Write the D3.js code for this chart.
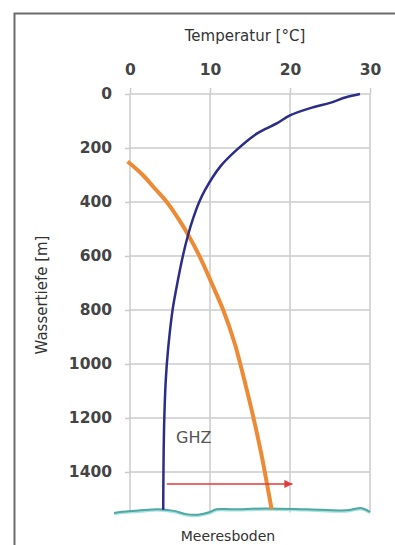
<!DOCTYPE html>
<html>
<head>
<meta charset="utf-8">
<script src="https://cdn.jsdelivr.net/npm/d3@7"></script>
<style>
  body { margin: 0; background: #fff; }
  svg { display: block; }
  .tick text { font-family: "DejaVu Sans", Verdana, sans-serif; fill: #444; font-weight: bold; }
</style>
</head>
<body>
<div id="chart"></div>
<script>
// temperature ticks (top axis) and depth ticks (left axis)
const tempTicks = [0, 10, 20, 30];
const depthTicks = [0, 200, 400, 600, 800, 1000, 1200, 1400];

// water temperature profile [°C, m]
const tempProfile = [
  [28.75, 0], [27, 12], [25, 33], [22.9, 49], [20, 79], [18.4, 108],
  [15.9, 146], [13.3, 208], [11.25, 270], [9.35, 357], [8.65, 400], [7.9, 460],
  [7.25, 523], [6.6, 601], [5.75, 727], [5.3, 804], [4.75, 949], [4.47, 1060],
  [4.3, 1188], [4.21, 1314], [4.15, 1540]
];

// hydrate stability curve [°C, m]
const hydrateCurve = [
  [-0.3, 250], [1.6, 300], [3.1, 350], [4.6, 400], [6.0, 460], [7.3, 523],
  [8.7, 601], [10.2, 700], [11.7, 804], [13.1, 925], [14.3, 1060],
  [15.3, 1182], [16.4, 1331], [17.1, 1440], [17.7, 1538]
];

// GHZ arrow [°C, m]
const ghzArrow = [[4.6, 1444], [20.3, 1444]];

// sea floor wave [°C, m]
const seaFloor = [
  [-2, 1552], [-1, 1547], [1, 1543], [3.5, 1538], [5.5, 1544], [7, 1556],
  [8.5, 1558], [10, 1548], [10.8, 1538], [13, 1538], [17, 1535], [22, 1538],
  [27, 1542], [29, 1534], [30, 1548]
];

const W = 395, H = 545;
const margin = { left: 130, top: 94 };
const plotW = 240;
const pxPerM = 0.27;

const svg = d3.select('#chart').append('svg')
  .attr('width', W)
  .attr('height', H);

// frame
svg.append('path')
  .attr('d', `M14.5,545 V13.5 H395`)
  .attr('fill', 'none')
  .attr('stroke', '#6a6a6a')
  .attr('stroke-width', 2);

const x = d3.scaleLinear().domain([0, 30]).range([0, plotW]);
const y = d3.scaleLinear().domain([0, 1550]).range([0, 1550 * pxPerM]);

const g = svg.append('g')
  .attr('transform', `translate(${margin.left}, ${margin.top})`);

// grid
g.selectAll('.vgrid')
  .data(tempTicks)
  .join('line')
  .attr('class', 'vgrid')
  .attr('x1', d => x(d)).attr('x2', d => x(d))
  .attr('y1', 0).attr('y2', y(1550))
  .attr('stroke', '#cbcbcb')
  .attr('stroke-width', 1.5);

g.selectAll('.hgrid')
  .data(depthTicks)
  .join('line')
  .attr('class', 'hgrid')
  .attr('x1', 0).attr('x2', plotW)
  .attr('y1', d => y(d)).attr('y2', d => y(d))
  .attr('stroke', '#cbcbcb')
  .attr('stroke-width', 1.5);

// axes
const axisTop = g.append('g')
  .call(d3.axisTop(x).tickValues(tempTicks).tickFormat(d3.format('d')).tickSize(6).tickPadding(13));
axisTop.select('.domain').remove();
axisTop.selectAll('.tick line').attr('stroke', '#cbcbcb').attr('stroke-width', 1.5);
axisTop.selectAll('.tick text').style('font-size', '15.5px');

const axisLeft = g.append('g')
  .call(d3.axisLeft(y).tickValues(depthTicks).tickFormat(d3.format('d')).tickSize(5).tickPadding(13));
axisLeft.select('.domain').remove();
axisLeft.selectAll('.tick line').attr('stroke', '#cbcbcb').attr('stroke-width', 1.5);
axisLeft.selectAll('.tick text').style('font-size', '15.5px');

// axis titles
svg.append('text')
  .attr('x', 245).attr('y', 41)
  .attr('text-anchor', 'middle')
  .style('font-family', '"DejaVu Sans", Verdana, sans-serif')
  .style('font-size', '15px')
  .attr('fill', '#333')
  .text('Temperatur [°C]');

svg.append('text')
  .attr('transform', 'translate(47, 295) rotate(-90)')
  .attr('text-anchor', 'middle')
  .style('font-family', '"DejaVu Sans", Verdana, sans-serif')
  .style('font-size', '15px')
  .attr('fill', '#333')
  .text('Wassertiefe [m]');

const line = d3.line()
  .x(d => x(d[0]))
  .y(d => y(d[1]))
  .curve(d3.curveCatmullRom.alpha(0.5));

// sea floor
g.append('path')
  .attr('d', line(seaFloor.map(d => [d[0], d[1] + 4])))
  .attr('fill', 'none')
  .attr('stroke', '#a3e0e0')
  .attr('stroke-width', 2.5);
g.append('path')
  .attr('d', line(seaFloor))
  .attr('fill', 'none')
  .attr('stroke', '#4fa8a2')
  .attr('stroke-width', 2);

// hydrate curve
g.append('path')
  .attr('d', line(hydrateCurve))
  .attr('fill', 'none')
  .attr('stroke', '#ec8a35')
  .attr('stroke-width', 4);

// temperature profile
g.append('path')
  .attr('d', line(tempProfile))
  .attr('fill', 'none')
  .attr('stroke', '#2b2d86')
  .attr('stroke-width', 2.5);

// GHZ arrow
svg.append('defs').append('marker')
  .attr('id', 'arrow')
  .attr('viewBox', '0 0 10 10')
  .attr('refX', 10).attr('refY', 5)
  .attr('markerWidth', 10).attr('markerHeight', 8)
  .attr('markerUnits', 'userSpaceOnUse')
  .attr('orient', 'auto')
  .append('path')
  .attr('d', 'M0,0 L10,5 L0,10 Z')
  .attr('fill', '#e23a3a');

g.append('line')
  .attr('x1', x(ghzArrow[0][0])).attr('y1', y(ghzArrow[0][1]))
  .attr('x2', x(ghzArrow[1][0])).attr('y2', y(ghzArrow[1][1]))
  .attr('stroke', '#e23a3a')
  .attr('stroke-width', 1.5)
  .attr('marker-end', 'url(#arrow)');

svg.append('text')
  .attr('x', 176).attr('y', 443)
  .style('font-family', '"DejaVu Sans", Verdana, sans-serif')
  .style('font-size', '16px')
  .attr('fill', '#555')
  .text('GHZ');

svg.append('text')
  .attr('x', 228).attr('y', 541)
  .attr('text-anchor', 'middle')
  .style('font-family', '"DejaVu Sans", Verdana, sans-serif')
  .style('font-size', '14px')
  .attr('fill', '#333')
  .text('Meeresboden');
</script>
</body>
</html>
